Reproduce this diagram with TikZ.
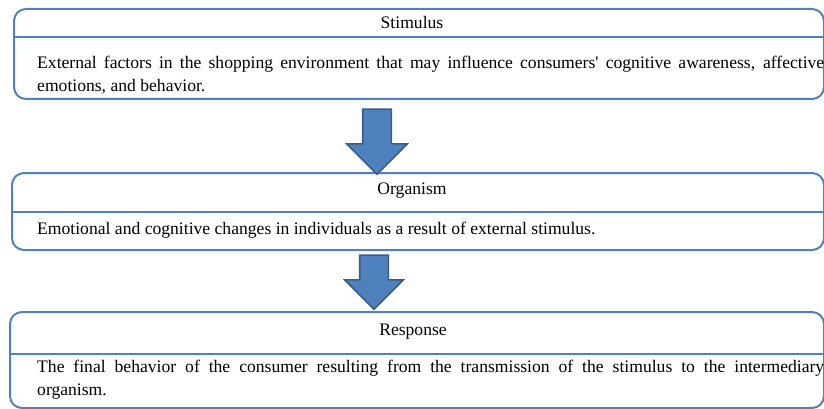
\documentclass[tikz,border=0pt]{standalone}
\usepackage{fontspec}
\setmainfont{Liberation Serif}
\usetikzlibrary{shapes.arrows,positioning,calc}
\definecolor{boxblue}{HTML}{4F81BD}
\definecolor{arrowedge}{HTML}{385D8A}

\begin{document}
\begin{tikzpicture}[x=1pt, y=-1pt,
    panel/.style={draw=boxblue, line width=2pt, rounded corners=12pt, anchor=north west, inner sep=0pt},
    divider/.style={draw=boxblue, line width=2pt},
    headtext/.style={font=\fontsize{17.6}{23}\selectfont, inner sep=0pt},
    bodytext/.style={font=\fontsize{17.6}{23}\selectfont, text width=787pt, align=justify, inner sep=0pt, anchor=north west},
    downarrow/.style={single arrow, shape border rotate=270, draw=arrowedge, fill=boxblue, line width=1.6pt, inner sep=13.5pt, single arrow head extend=16pt}]
    \useasboundingbox (0,0) rectangle (824,409);

    % Stimulus
    \node[panel, minimum width=810pt, minimum height=90pt] (stim) at (13,8) {};
    \draw[divider] ($(stim.north west)+(0,29)$) -- ($(stim.north east)+(0,29)$);
    \node[headtext] (stimhead) at (412,22) {Stimulus};
    \node[bodytext] (stimbody) at (37,56) {External factors in the shopping environment that may influence consumers\textquotesingle{} cognitive awareness, affective\linebreak emotions, and behavior.};

    % Organism
    \node[panel, minimum width=812pt, minimum height=77pt] (org) at (11,172) {};
    \draw[divider] ($(org.north west)+(0,40)$) -- ($(org.north east)+(0,40)$);
    \node[headtext] (orghead) at (412,191) {Organism};
    \node[bodytext] (orgbody) at (37,222) {Emotional and cognitive changes in individuals as a result of external stimulus.};

    % Response
    \node[panel, minimum width=814pt, minimum height=96pt] (resp) at (9,311) {};
    \draw[divider] ($(resp.north west)+(0,43)$) -- ($(resp.north east)+(0,43)$);
    \node[headtext] (resphead) at (413,332) {Response};
    \node[bodytext] (respbody) at (37,360) {The final behavior of the consumer resulting from the transmission of the stimulus to the intermediary\linebreak organism.};

    % arrows
    \node[downarrow, minimum height=65pt] (arrone) at (377,134.5) {};
    \node[downarrow, minimum height=54pt, single arrow head extend=15pt] (arrtwo) at (374,275) {};
\end{tikzpicture}
\end{document}
